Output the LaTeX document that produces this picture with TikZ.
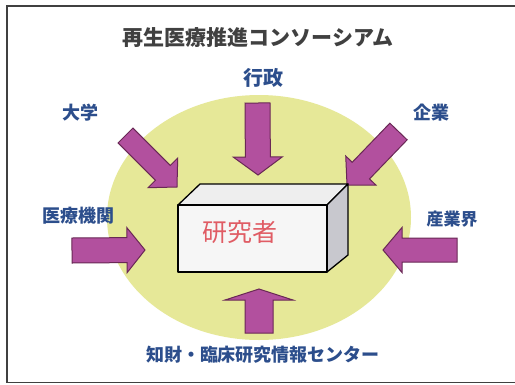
\documentclass[tikz,border=0pt]{standalone}
\usepackage{fontspec}
\setmainfont{Noto Sans CJK JP}
\usetikzlibrary{calc}
\definecolor{ell}{RGB}{230,232,152}
\definecolor{arrfill}{RGB}{178,80,158}
\definecolor{arrline}{RGB}{105,40,85}
\definecolor{lblue}{RGB}{44,78,140}
\definecolor{ttl}{RGB}{64,64,64}
\definecolor{resred}{RGB}{224,92,100}
\definecolor{sideface}{RGB}{200,200,206}
\definecolor{frontface}{RGB}{246,246,246}
\definecolor{topface}{RGB}{238,238,238}
\tikzset{
  blockarrow/.style={fill=arrfill, draw=arrline, line width=1pt, line join=miter},
  lbl/.style={text=lblue, font=\bfseries\fontsize{18}{20}\selectfont, inner sep=0pt},
  boxface/.style={draw=black, line width=1.3pt, line join=round},
}
\newcommand\blockarr[6]{%
  \coordinate (#1-t) at #2;
  \coordinate (#1-p) at #3;
  \coordinate (#1-b) at ($(#1-p)!#6!(#1-t)$);
  \draw[blockarrow] ($(#1-t)!#4!90:(#1-p)$) -- ($(#1-b)!#4!-90:(#1-t)$)
    -- ($(#1-b)!#5!-90:(#1-t)$) -- (#1-p) -- ($(#1-b)!#5!90:(#1-t)$)
    -- ($(#1-b)!#4!90:(#1-t)$) -- ($(#1-t)!#4!-90:(#1-p)$) -- cycle;}
\begin{document}
\begin{tikzpicture}[x=1pt,y=-1pt]
\useasboundingbox (0,0) rectangle (515,384);
\fill[white] (0,0) rectangle (515,384);
% frame
\draw[ttl, line width=1.6pt] (516,6) -- (7,6) -- (7,382.5) -- (516,382.5);
% ellipse
\fill[ell] (259,217.5) ellipse [x radius=152, y radius=122.5];
% title
\node[text=ttl, font=\bfseries\fontsize{21}{23}\selectfont, inner sep=0pt] (title) at (258,38) {再生医療推進コンソーシアム};
% labels
\node[lbl, font=\bfseries\fontsize{20}{22}\selectfont] (gyosei) at (263,78) {行政};
\node[lbl] (daigaku) at (81,113) {大学};
\node[lbl] (kigyo) at (431,113) {企業};
\node[lbl] (iryo) at (78,216) {医療機関};
\node[lbl, font=\bfseries\fontsize{17}{19}\selectfont] (sangyo) at (452,219) {産業界};
\node[lbl] (chizai) at (263,355) {知財・臨床研究情報センター};
% arrows
\blockarr{ua}{(125.5,135.5)}{(177,187)}{10.5pt}{21pt}{20pt}
\blockarr{ca}{(398.5,131.5)}{(347,185)}{12pt}{21pt}{20pt}
\blockarr{ga}{(257.5,103)}{(258,175)}{12.5pt}{24.5pt}{18pt}
\blockarr{ba}{(259,333)}{(259,289)}{14pt}{34pt}{11pt}
\blockarr{ma}{(72,250.5)}{(145,250)}{12.5pt}{22.5pt}{18pt}
\blockarr{sa}{(457,250)}{(383,250)}{12pt}{22.5pt}{19pt}
% box
\draw[boxface, fill=topface] (178,205) -- (200,184) -- (348,184) -- (327,205) -- cycle;
\draw[boxface, fill=sideface] (327,205) -- (348,184) -- (348,255) -- (327,272) -- cycle;
\draw[boxface, fill=frontface] (178,205) rectangle (327,272);
\node[text=resred, font=\fontsize{25}{27}\selectfont, inner sep=0pt] (res) at (240,232) {研究者};
\end{tikzpicture}
\end{document}
